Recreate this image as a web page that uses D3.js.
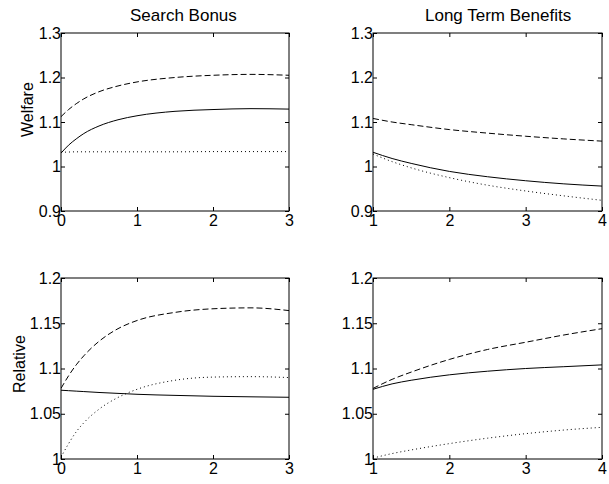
<!DOCTYPE html>
<html><head><meta charset="utf-8">
<script src="https://cdn.jsdelivr.net/npm/d3@7"></script>
<style>
body{margin:0;background:#fff;}
text{font-family:"Liberation Sans",Arial,Helvetica,sans-serif;fill:#000;}
</style></head>
<body>
<svg id="chart" width="609" height="484"></svg>
<script>
// ---- data ----
const xSearch = [0, 0.1, 0.2, 0.3, 0.5, 0.75, 1, 1.5, 2, 2.5, 3];
const xLong = [1, 1.25, 1.5, 2, 2.5, 3, 3.5, 4];

const welfareSearchSolid  = [1.030, 1.048, 1.062, 1.074, 1.091, 1.105, 1.114, 1.124, 1.128, 1.130, 1.129];
const welfareSearchDashed = [1.112, 1.128, 1.141, 1.152, 1.168, 1.181, 1.190, 1.200, 1.205, 1.207, 1.205];
const welfareSearchDotted = [1.032, 1.0325, 1.033, 1.033, 1.033, 1.033, 1.033, 1.033, 1.0335, 1.0335, 1.0335];

const welfareLongSolid  = [1.032, 1.018, 1.007, 0.989, 0.977, 0.968, 0.961, 0.956];
const welfareLongDashed = [1.108, 1.100, 1.094, 1.083, 1.075, 1.068, 1.062, 1.057];
const welfareLongDotted = [1.028, 1.011, 0.997, 0.975, 0.958, 0.945, 0.934, 0.924];

const relSearchSolid  = [1.076, 1.0755, 1.075, 1.0745, 1.0735, 1.0725, 1.0715, 1.0703, 1.0693, 1.0687, 1.0682];
const relSearchDashed = [1.078, 1.092, 1.104, 1.114, 1.130, 1.144, 1.153, 1.162, 1.166, 1.167, 1.164];
const relSearchDotted = [1.002, 1.017, 1.030, 1.040, 1.055, 1.068, 1.077, 1.087, 1.0905, 1.091, 1.090];

const relLongSolid  = [1.077, 1.083, 1.087, 1.093, 1.097, 1.100, 1.102, 1.104];
const relLongDashed = [1.078, 1.088, 1.096, 1.110, 1.121, 1.129, 1.137, 1.144];
const relLongDotted = [1.001, 1.006, 1.010, 1.017, 1.023, 1.028, 1.032, 1.035];

const xTicksSearch = [0, 1, 2, 3];
const xTicksLong = [1, 2, 3, 4];
const yTicksWelfare = [0.9, 1, 1.1, 1.2, 1.3];
const yTicksRelative = [1, 1.05, 1.1, 1.15, 1.2];

const titles = ["Search Bonus", "Long Term Benefits"];
const yLabels = ["Welfare", "Relative"];

// ---- layout ----
const svg = d3.select("#chart");
const cols = [{x0: 61, x1: 289, tx: 130}, {x0: 373, x1: 602, tx: 425}];
const rows = [{y0: 33, y1: 211}, {y0: 278, y1: 459}];

const panels = [
  {col:0,row:0,xd:[0,3],yd:[0.9,1.3],xt:xTicksSearch,yt:yTicksWelfare,x:xSearch,
   s:[welfareSearchSolid,welfareSearchDashed,welfareSearchDotted],title:titles[0],ylab:yLabels[0],ylabX:33,ylabY:137},
  {col:1,row:0,xd:[1,4],yd:[0.9,1.3],xt:xTicksLong,yt:yTicksWelfare,x:xLong,
   s:[welfareLongSolid,welfareLongDashed,welfareLongDotted],title:titles[1]},
  {col:0,row:1,xd:[0,3],yd:[1,1.2],xt:xTicksSearch,yt:yTicksRelative,x:xSearch,
   s:[relSearchSolid,relSearchDashed,relSearchDotted],ylab:yLabels[1],ylabX:25,ylabY:393},
  {col:1,row:1,xd:[1,4],yd:[1,1.2],xt:xTicksLong,yt:yTicksRelative,x:xLong,
   s:[relLongSolid,relLongDashed,relLongDotted]}
];
const styles = [null, "6,3", "1,3"];
const fs = 16;

panels.forEach(p => {
  const c = cols[p.col], r = rows[p.row];
  const x = d3.scaleLinear().domain(p.xd).range([c.x0, c.x1]);
  const y = d3.scaleLinear().domain(p.yd).range([r.y1, r.y0]);
  const g = svg.append("g");
  const fmt = d => String(+d.toFixed(2));

  const tl = 4;
  const axB = g.append("g").attr("transform",`translate(0,${r.y1})`)
    .call(d3.axisBottom(x).tickValues(p.xt).tickSizeInner(-tl).tickSizeOuter(0).tickPadding(2).tickFormat(fmt));
  const axT = g.append("g").attr("transform",`translate(0,${r.y0})`)
    .call(d3.axisTop(x).tickValues(p.xt).tickSizeInner(-tl).tickSizeOuter(0).tickFormat(""));
  const axL = g.append("g").attr("transform",`translate(${c.x0},0)`)
    .call(d3.axisLeft(y).tickValues(p.yt).tickSizeInner(-tl).tickSizeOuter(0).tickPadding(0).tickFormat(fmt));
  const axR = g.append("g").attr("transform",`translate(${c.x1},0)`)
    .call(d3.axisRight(y).tickValues(p.yt).tickSizeInner(-tl).tickSizeOuter(0).tickFormat(""));
  [axB,axT,axL,axR].forEach(a => {
    a.select(".domain").remove();
    a.selectAll("line").attr("stroke","#000").attr("stroke-width",1);
    a.selectAll("text").attr("font-size",fs).attr("font-family","Liberation Sans, Arial, sans-serif").attr("fill","#000");
  });
  axB.selectAll("text").attr("dy","0.8em").attr("y", 2);

  g.append("rect").attr("x",c.x0).attr("y",r.y0).attr("width",c.x1-c.x0).attr("height",r.y1-r.y0)
    .attr("fill","none").attr("stroke","#000").attr("stroke-width",1);

  const clipId = `clip${p.col}${p.row}`;
  g.append("clipPath").attr("id",clipId).append("rect")
    .attr("x",c.x0).attr("y",r.y0).attr("width",c.x1-c.x0).attr("height",r.y1-r.y0);
  p.s.forEach((vals,i) => {
    const line = d3.line().x((d,j)=>x(p.x[j])).y(d=>y(d)).curve(d3.curveMonotoneX);
    g.append("path").attr("d",line(vals)).attr("fill","none").attr("stroke","#000")
      .attr("stroke-width",1).attr("clip-path",`url(#${clipId})`)
      .attr("stroke-dasharray",styles[i]);
  });

  if (p.title) {
    g.append("text").attr("x",c.tx).attr("y",21).attr("text-anchor","start")
      .attr("font-size",17).text(p.title);
  }
  if (p.ylab) {
    g.append("text").attr("transform",`translate(${p.ylabX},${p.ylabY}) rotate(-90)`)
      .attr("text-anchor","start").attr("font-size",fs).text(p.ylab);
  }
});
</script>
</body></html>
